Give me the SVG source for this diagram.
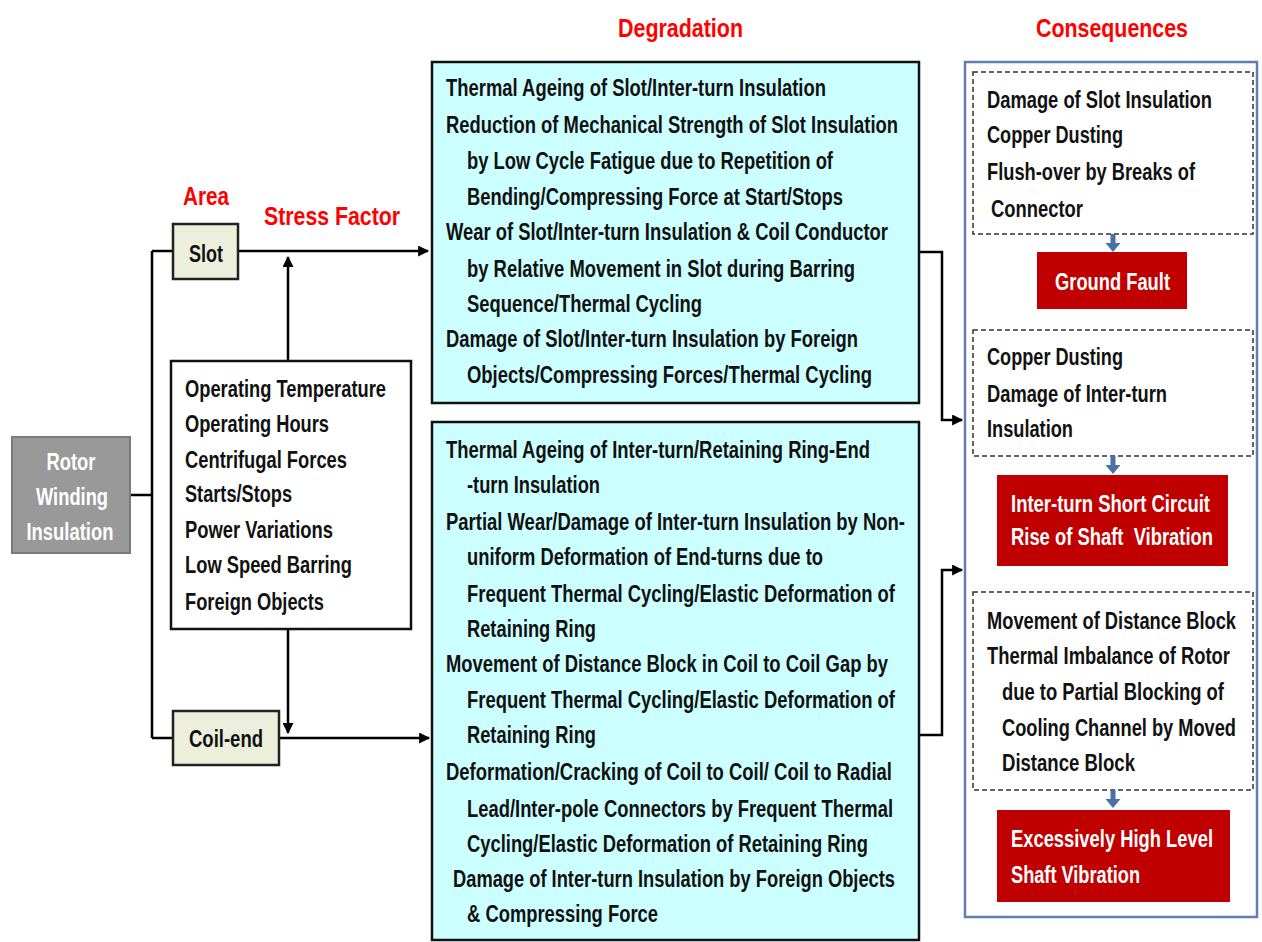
<svg xmlns="http://www.w3.org/2000/svg" width="1262" height="942" viewBox="0 0 1262 942">
<style>
text{font-family:"Liberation Sans",Arial,sans-serif;font-weight:bold;}
.t{font-size:23px;fill:#111;}
.w{font-size:23px;fill:#fff;}
.title{font-size:26px;fill:#ff0000;}
.ln{stroke:#000;stroke-width:2.5;fill:none;}
.ar{stroke:#000;stroke-width:2.5;fill:none;marker-end:url(#ah);}
.deg{fill:#ccffff;stroke:#111;stroke-width:2.5;}
.area{fill:#ebefdc;stroke:#222;stroke-width:2.5;}
.dash{fill:#fff;stroke:#333;stroke-width:1.5;stroke-dasharray:5 3;}
.red{fill:#c00000;}
.blu{fill:#4a70a6;}
</style>
<defs>
<marker id="ah" viewBox="0 0 10 10" refX="9" refY="5" markerWidth="4.8" markerHeight="4.4" orient="auto" markerUnits="strokeWidth">
<path d="M0,0 L10,5 L0,10 z" fill="#000"/>
</marker>
</defs>
<rect width="1262" height="942" fill="#fff"/>

<g id="titles">
<text class="title" x="229" y="205" text-anchor="end" textLength="46" lengthAdjust="spacingAndGlyphs">Area</text>
<text class="title" x="264" y="225" textLength="136" lengthAdjust="spacingAndGlyphs">Stress Factor</text>
<text class="title" x="618" y="37" textLength="125" lengthAdjust="spacingAndGlyphs">Degradation</text>
<text class="title" x="1036" y="37" textLength="152" lengthAdjust="spacingAndGlyphs">Consequences</text>
</g>

<g id="connectors">
<path class="ln" d="M130,495 H152 M152,251 V738 M152,251 H173 M152,738 H173"/>
<path class="ar" d="M238,251 H428"/>
<path class="ar" d="M280,738 H429"/>
<path class="ar" d="M288,361 V257"/>
<path class="ar" d="M288,629 V733"/>
<path class="ar" d="M919,252 H942 V420 H962"/>
<path class="ar" d="M919,735 H942 V570 H962"/>
</g>

<g id="rotor">
<rect x="12" y="437" width="118" height="116" fill="#999" stroke="#7a7a7a" stroke-width="2"/>
<text class="w" x="71" y="470" text-anchor="middle" textLength="49" lengthAdjust="spacingAndGlyphs">Rotor</text>
<text class="w" x="72" y="505" text-anchor="middle" textLength="72" lengthAdjust="spacingAndGlyphs">Winding</text>
<text class="w" x="70" y="540" text-anchor="middle" textLength="87" lengthAdjust="spacingAndGlyphs">Insulation</text>
</g>

<g id="slot">
<rect class="area" x="173" y="224" width="65" height="55"/>
<text class="t" x="189" y="262" textLength="34" lengthAdjust="spacingAndGlyphs">Slot</text>
</g>

<g id="coilend">
<rect class="area" x="173" y="711" width="106" height="54"/>
<text class="t" x="189" y="747" textLength="74" lengthAdjust="spacingAndGlyphs">Coil-end</text>
</g>

<g id="stress">
<rect x="171" y="361" width="240" height="268" fill="#fff" stroke="#111" stroke-width="2.5"/>
<text class="t" x="185" y="397" textLength="201" lengthAdjust="spacingAndGlyphs">Operating Temperature</text>
<text class="t" x="185" y="432" textLength="144" lengthAdjust="spacingAndGlyphs">Operating Hours</text>
<text class="t" x="185" y="468" textLength="162" lengthAdjust="spacingAndGlyphs">Centrifugal Forces</text>
<text class="t" x="185" y="502" textLength="107" lengthAdjust="spacingAndGlyphs">Starts/Stops</text>
<text class="t" x="185" y="538" textLength="148" lengthAdjust="spacingAndGlyphs">Power Variations</text>
<text class="t" x="185" y="573" textLength="167" lengthAdjust="spacingAndGlyphs">Low Speed Barring</text>
<text class="t" x="185" y="610" textLength="139" lengthAdjust="spacingAndGlyphs">Foreign Objects</text>
</g>

<g id="deg-slot">
<rect class="deg" x="432" y="62" width="487" height="341"/>
<text class="t" x="446" y="96" textLength="380" lengthAdjust="spacingAndGlyphs">Thermal Ageing of Slot/Inter-turn Insulation</text>
<text class="t" x="446" y="133" textLength="452" lengthAdjust="spacingAndGlyphs">Reduction of Mechanical Strength of Slot Insulation</text>
<text class="t" x="467" y="169" textLength="366" lengthAdjust="spacingAndGlyphs">by Low Cycle Fatigue due to Repetition of</text>
<text class="t" x="467" y="205" textLength="376" lengthAdjust="spacingAndGlyphs">Bending/Compressing Force at Start/Stops</text>
<text class="t" x="446" y="240" textLength="442" lengthAdjust="spacingAndGlyphs">Wear of Slot/Inter-turn Insulation &amp; Coil Conductor</text>
<text class="t" x="467" y="277" textLength="388" lengthAdjust="spacingAndGlyphs">by Relative Movement in Slot during Barring</text>
<text class="t" x="467" y="312" textLength="235" lengthAdjust="spacingAndGlyphs">Sequence/Thermal Cycling</text>
<text class="t" x="446" y="347" textLength="412" lengthAdjust="spacingAndGlyphs">Damage of Slot/Inter-turn Insulation by Foreign</text>
<text class="t" x="467" y="383" textLength="405" lengthAdjust="spacingAndGlyphs">Objects/Compressing Forces/Thermal Cycling</text>
</g>

<g id="deg-coilend">
<rect class="deg" x="432" y="422" width="487" height="518"/>
<text class="t" x="446" y="458" textLength="424" lengthAdjust="spacingAndGlyphs">Thermal Ageing of Inter-turn/Retaining Ring-End</text>
<text class="t" x="467" y="493" textLength="133" lengthAdjust="spacingAndGlyphs">-turn Insulation</text>
<text class="t" x="446" y="530" textLength="459" lengthAdjust="spacingAndGlyphs">Partial Wear/Damage of Inter-turn Insulation by Non-</text>
<text class="t" x="467" y="565" textLength="356" lengthAdjust="spacingAndGlyphs">uniform Deformation of End-turns due to</text>
<text class="t" x="467" y="602" textLength="428" lengthAdjust="spacingAndGlyphs">Frequent Thermal Cycling/Elastic Deformation of</text>
<text class="t" x="467" y="637" textLength="129" lengthAdjust="spacingAndGlyphs">Retaining Ring</text>
<text class="t" x="446" y="672" textLength="442" lengthAdjust="spacingAndGlyphs">Movement of Distance Block in Coil to Coil Gap by</text>
<text class="t" x="467" y="708" textLength="428" lengthAdjust="spacingAndGlyphs">Frequent Thermal Cycling/Elastic Deformation of</text>
<text class="t" x="467" y="743" textLength="129" lengthAdjust="spacingAndGlyphs">Retaining Ring</text>
<text class="t" x="446" y="780" textLength="446" lengthAdjust="spacingAndGlyphs">Deformation/Cracking of Coil to Coil/ Coil to Radial</text>
<text class="t" x="467" y="817" textLength="426" lengthAdjust="spacingAndGlyphs">Lead/Inter-pole Connectors by Frequent Thermal</text>
<text class="t" x="467" y="852" textLength="401" lengthAdjust="spacingAndGlyphs">Cycling/Elastic Deformation of Retaining Ring</text>
<text class="t" x="453" y="887" textLength="442" lengthAdjust="spacingAndGlyphs">Damage of Inter-turn Insulation by Foreign Objects</text>
<text class="t" x="467" y="922" textLength="191" lengthAdjust="spacingAndGlyphs">&amp; Compressing Force</text>
</g>

<g id="consequences">
<rect x="965" y="62" width="292" height="855" fill="#fff" stroke="#5f7fae" stroke-width="2.5"/>
</g>

<g id="cons-1">
<rect class="dash" x="973" y="72" width="280" height="162"/>
<text class="t" x="987" y="108" textLength="225" lengthAdjust="spacingAndGlyphs">Damage of Slot Insulation</text>
<text class="t" x="987" y="143" textLength="136" lengthAdjust="spacingAndGlyphs">Copper Dusting</text>
<text class="t" x="987" y="180" textLength="208" lengthAdjust="spacingAndGlyphs">Flush-over by Breaks of</text>
<text class="t" x="991" y="217" textLength="92" lengthAdjust="spacingAndGlyphs">Connector</text>
<path class="blu" d="M1110.5,234 h5 v9 h5 l-7.5,9 l-7.5,-9 h5 z"/>
</g>
<g id="ground-fault">
<rect class="red" x="1037" y="252" width="150" height="57"/>
<text class="w" x="1055" y="290" textLength="115" lengthAdjust="spacingAndGlyphs">Ground Fault</text>
</g>

<g id="cons-2">
<rect class="dash" x="973" y="330" width="280" height="126"/>
<text class="t" x="987" y="365" textLength="136" lengthAdjust="spacingAndGlyphs">Copper Dusting</text>
<text class="t" x="987" y="402" textLength="180" lengthAdjust="spacingAndGlyphs">Damage of Inter-turn</text>
<text class="t" x="987" y="437" textLength="86" lengthAdjust="spacingAndGlyphs">Insulation</text>
<path class="blu" d="M1110.5,456 h5 v9 h5 l-7.5,9 l-7.5,-9 h5 z"/>
</g>
<g id="short-circuit">
<rect class="red" x="997" y="475" width="231" height="91"/>
<text class="w" x="1011" y="512" textLength="199" lengthAdjust="spacingAndGlyphs">Inter-turn Short Circuit</text>
<text class="w" x="1011" y="545" textLength="202" lengthAdjust="spacingAndGlyphs" xml:space="preserve">Rise of Shaft  Vibration</text>
</g>

<g id="cons-3">
<rect class="dash" x="973" y="592" width="280" height="198"/>
<text class="t" x="987" y="629" textLength="249" lengthAdjust="spacingAndGlyphs">Movement of Distance Block</text>
<text class="t" x="987" y="664" textLength="243" lengthAdjust="spacingAndGlyphs">Thermal Imbalance of Rotor</text>
<text class="t" x="1002" y="700" textLength="222" lengthAdjust="spacingAndGlyphs">due to Partial Blocking of</text>
<text class="t" x="1002" y="736" textLength="234" lengthAdjust="spacingAndGlyphs">Cooling Channel by Moved</text>
<text class="t" x="1002" y="771" textLength="133" lengthAdjust="spacingAndGlyphs">Distance Block</text>
<path class="blu" d="M1110.5,790 h5 v9 h5 l-7.5,9 l-7.5,-9 h5 z"/>
</g>
<g id="vibration">
<rect class="red" x="997" y="810" width="233" height="92"/>
<text class="w" x="1011" y="847" textLength="202" lengthAdjust="spacingAndGlyphs">Excessively High Level</text>
<text class="w" x="1011" y="883" textLength="129" lengthAdjust="spacingAndGlyphs">Shaft Vibration</text>
</g>
</svg>
